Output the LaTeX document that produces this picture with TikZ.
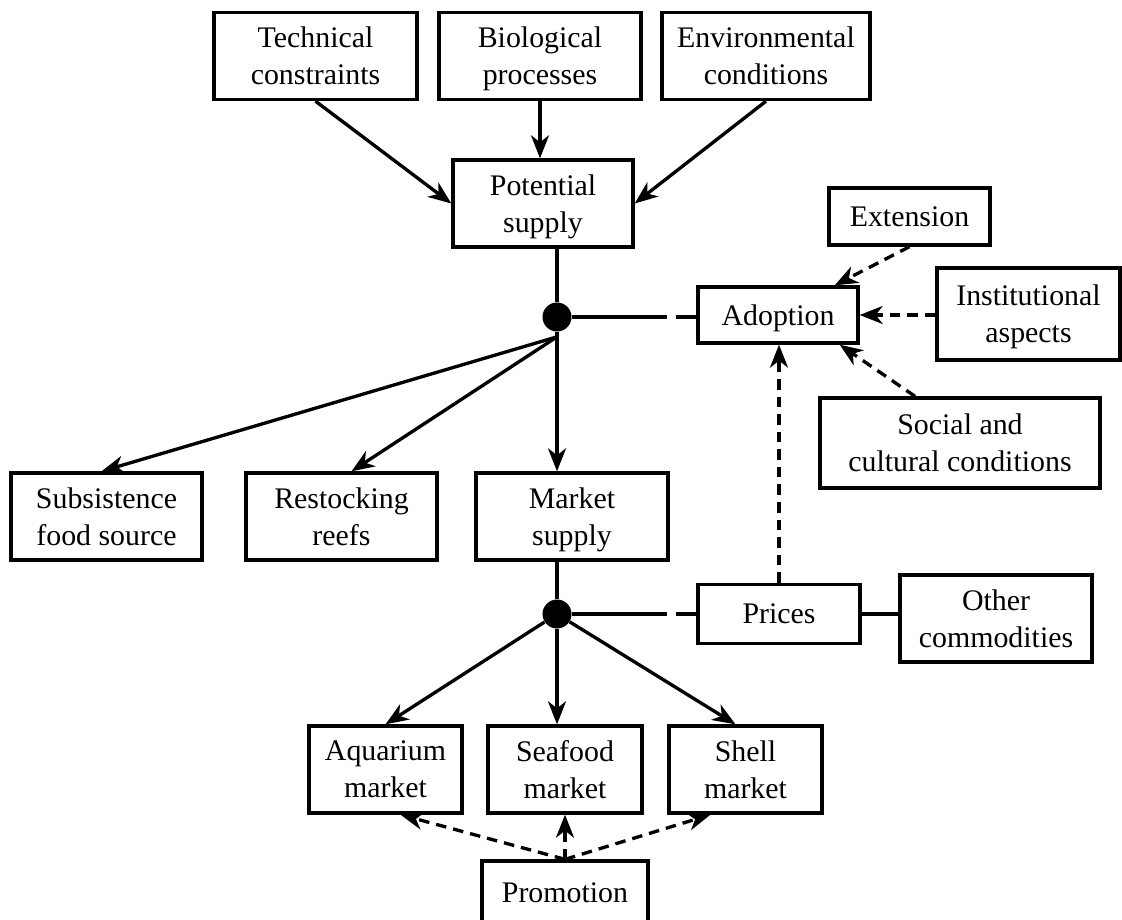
\documentclass[tikz,border=0pt]{standalone}
\usepackage{fontspec}
\setmainfont{Liberation Serif}
\usetikzlibrary{arrows.meta,positioning}

\begin{document}
\begin{tikzpicture}[
    box/.style={draw, line width=1.9pt, align=center, inner sep=2pt,
                font=\fontsize{17}{21}\selectfont, text depth=0pt},
    arr/.style={-{Stealth[length=4.6mm, width=3.6mm, inset=1.4mm]}, line width=1.9pt},
    darr/.style={arr, dash pattern=on 6pt off 4pt},
    gapline/.style={line width=1.9pt, dash pattern=on 54pt off 5pt on 40pt},
    dot/.style={circle, fill, inner sep=0pt, minimum size=5.8mm}
]
\useasboundingbox (0,0) rectangle (22.44,18.38);
% Row 1: inputs -> Potential supply
\node[box, minimum width=4.06cm, minimum height=1.74cm] (tech) at (6.31,17.26)
  {Technical\\constraints};
\node[box, minimum width=4.04cm, minimum height=1.74cm] (bio) at (10.80,17.26)
  {Biological\\processes};
\node[box, minimum width=4.16cm, minimum height=1.74cm] (env) at (15.32,17.26)
  {Environmental\\conditions};
\node[box, minimum width=3.6cm, minimum height=1.74cm] (pot) at (10.86,14.31)
  {Potential\\supply};
% Adoption and its drivers
\node[dot] (dot1) at (11.14,12.04) {};
\node[box, minimum width=3.2cm, minimum height=1.12cm] (adopt) at (15.56,12.08)
  {Adoption};
\node[box, minimum width=3.22cm, minimum height=1.14cm] (ext) at (18.19,14.05)
  {Extension};
\node[box, minimum width=3.66cm, minimum height=1.84cm] (inst) at (20.57,12.10)
  {Institutional\\aspects};
\node[box, minimum width=5.6cm, minimum height=1.8cm] (social) at (19.20,9.52)
  {Social and\\cultural conditions};
% Row 2: uses of supply
\node[box, minimum width=3.82cm, minimum height=1.74cm] (subs) at (2.13,8.05)
  {Subsistence\\food source};
\node[box, minimum width=3.82cm, minimum height=1.74cm] (rest) at (6.83,8.05)
  {Restocking\\reefs};
\node[box, minimum width=3.84cm, minimum height=1.74cm] (market) at (11.44,8.05)
  {Market\\supply};
% Prices
\node[dot] (dot2) at (11.14,6.10) {};
\node[box, minimum width=3.24cm, minimum height=1.18cm] (prices) at (15.58,6.10)
  {Prices};
\node[box, minimum width=3.84cm, minimum height=1.74cm] (other) at (19.92,6.01)
  {Other\\commodities};
% Row 3: markets
\node[box, minimum width=3.06cm, minimum height=1.74cm] (aqua) at (7.71,2.99)
  {Aquarium\\market};
\node[box, minimum width=3.08cm, minimum height=1.74cm] (sea) at (11.30,2.99)
  {Seafood\\market};
\node[box, minimum width=3.06cm, minimum height=1.74cm] (shell) at (14.91,2.99)
  {Shell\\market};
\node[box, minimum width=3.32cm, minimum height=1.28cm] (promo) at (11.30,0.52)
  {Promotion};
\coordinate (fork) at ([yshift=-1mm]dot1.south);
% Arrows
\draw[arr] (tech.south) -- (pot.west);
\draw[arr] (bio.south) -- (bio.south |- pot.north);
\draw[arr] (env.south) -- (pot.east);
\draw[line width=1.9pt] (pot.south -| dot1) -- (dot1);
\draw[gapline] (dot1) -- (dot1 -| adopt.west);
\draw[darr] (ext.south) -- ([xshift=-5mm]adopt.north east);
\draw[darr] (adopt.east -| inst.west) -- (adopt.east);
\draw[darr] ([xshift=-9mm]social.north) -- ([xshift=-4mm]adopt.south east);
\draw[darr] (prices.north) -- (prices.north |- adopt.south);
\draw[arr] (fork) -- ([xshift=-1mm]subs.north);
\draw[arr] (fork) -- ([xshift=2mm]rest.north);
\draw[arr] (dot1) -- (dot1 |- market.north);
\draw[line width=1.9pt] (market.south -| dot2) -- (dot2);
\draw[gapline] (dot2) -- (prices.west);
\draw[line width=1.9pt] (prices.east) -- (prices.east -| other.west);
\draw[arr] (dot2) -- (aqua.north);
\draw[arr] (dot2) -- (dot2 |- sea.north);
\draw[arr] (dot2) -- ([xshift=-2mm]shell.north);
\draw[darr] (promo.north) -- ([xshift=3mm]aqua.south);
\draw[darr] (promo.north) -- (sea.south);
\draw[darr] (promo.north) -- ([xshift=-7mm]shell.south);
\end{tikzpicture}
\end{document}
